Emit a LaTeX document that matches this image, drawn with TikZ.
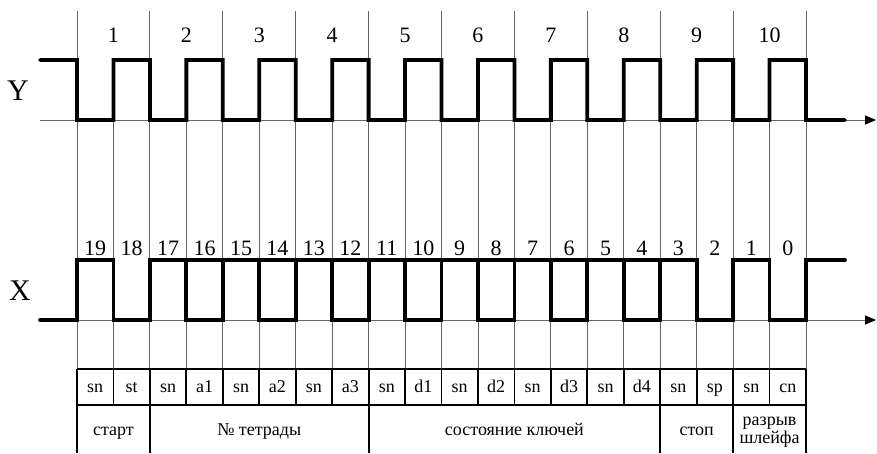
\documentclass[tikz,border=0pt]{standalone}
\usepackage{fontspec}
\setmainfont{Liberation Serif}
\usetikzlibrary{arrows.meta}
\begin{document}
\begin{tikzpicture}[x=1pt,y=-1pt,
  gridline/.style={line width=0.9pt, black!60},
  sig/.style={line width=3.8pt, line cap=round, line join=miter},
  sigbox/.style={line width=3.8pt, line join=miter},
  axisline/.style={line width=0.9pt, black!60, -{Triangle[length=11pt,width=9pt,black]}},
  tabline/.style={line width=1.8pt},
  num/.style={font=\fontsize{22}{24}\selectfont, inner sep=0pt, anchor=base},
  cell/.style={font=\fontsize{18}{20}\selectfont, inner sep=0pt, anchor=base},
  big/.style={font=\fontsize{30}{32}\selectfont, inner sep=0pt, anchor=base}]
\useasboundingbox (0,0) rectangle (877,453);
\def\cw{36.45}
% grid
\foreach \i in {0,2,...,20} \draw[gridline] ({77+\i*\cw},11) -- ({77+\i*\cw},369);
\foreach \i in {1,3,...,19} \draw[gridline] ({77+\i*\cw},120) -- ({77+\i*\cw},369);
% axes
\coordinate (ys) at (40,120); \coordinate (ye) at (876,120);
\coordinate (xs) at (40,320); \coordinate (xe) at (876,320);
\draw[axisline] (ys) -- (ye);
\draw[axisline] (xs) -- (xe);
% Y signal
\draw[sig] (40,60) -- (77,60)
  foreach \i in {0,2,...,18} { -- ({77+\i*\cw},120) -- ({77+(\i+1)*\cw},120)
    -- ({77+(\i+1)*\cw},60) -- ({77+(\i+2)*\cw},60) }
  -- (806,120) -- (845,120);
% X signal
\draw[sig] (40,320) -- ({77},320) -- (77,260) -- ({77+\cw},260) -- ({77+\cw},320)
  -- ({77+2*\cw},320) -- ({77+2*\cw},260) -- ({77+17*\cw},260) -- ({77+17*\cw},320)
  -- ({77+18*\cw},320) -- ({77+18*\cw},260) -- ({77+19*\cw},260) -- ({77+19*\cw},320)
  -- ({77+20*\cw},320) -- ({77+20*\cw},260) -- (845,260);
\foreach \i in {3,5,...,15} \draw[sigbox] ({77+\i*\cw},260) rectangle ({77+(\i+1)*\cw},320);
% labels
\node[big] (ylab) at (18,100) {Y};
\node[big] (xlab) at (20,300) {X};
\foreach \k in {1,...,10} \node[num] (yn\k) at ({77+(2*\k-1)*\cw},42) {\k};
\foreach \i in {0,...,19} {
  \pgfmathtruncatemacro\lab{19-\i}
  \node[num] (xn\i) at ({77+(\i+0.5)*\cw},255) {\lab};
}
% table
\draw[tabline] (77,369) -- (806,369);
\draw[tabline] (77,405) -- (806,405);
\foreach \i in {0,...,20} \draw[tabline] ({77+\i*\cw},369) -- ({77+\i*\cw},405);
\foreach \i in {0,2,8,16,18,20} \draw[tabline] ({77+\i*\cw},405) -- ({77+\i*\cw},453);
\foreach \t [count=\c from 0] in {sn,st,sn,a1,sn,a2,sn,a3,sn,d1,sn,d2,sn,d3,sn,d4,sn,sp,sn,cn}
  \node[cell] (cell\c) at ({77+(\c+0.5)*\cw},392) {\t};
\node[cell] (gstart) at ({77+1*\cw},435) {старт};
\node[cell] (gtetr) at ({77+5*\cw},435) {№ тетрады};
\node[cell] (gkey) at ({77+12*\cw},435) {состояние ключей};
\node[cell] (gstop) at ({77+17*\cw},435) {стоп};
\node[cell] (gbreak1) at ({77+19*\cw},425) {разрыв};
\node[cell] (gbreak2) at ({77+19*\cw},443) {шлейфа};
\end{tikzpicture}
\end{document}
